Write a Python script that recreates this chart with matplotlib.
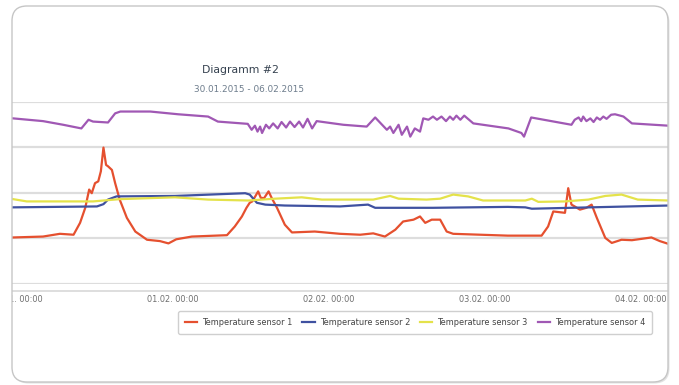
import numpy as np
import pandas as pd
import matplotlib
matplotlib.use("Agg")
import matplotlib.pyplot as plt
import matplotlib.dates as mdates
from matplotlib.patches import FancyBboxPatch, Rectangle
from matplotlib.lines import Line2D

# hours after 31.01.2015 00:00, temperatures in °C
s1_hours = [-0.6, 4.0, 6.6, 8.7, 9.7, 10.5, 11.1, 11.5, 12.0, 12.5, 12.9, 13.3, 13.7, 14.0,
            14.6, 15.1, 15.8, 16.9, 18.2, 20.0, 22.0, 23.3, 24.5, 26.9, 32.3, 33.5, 34.6,
            35.3, 35.8, 36.2, 37.1, 37.5, 38.0, 38.7, 39.2, 40.0, 41.2, 42.3, 45.8, 49.7,
            52.8, 54.8, 56.6, 58.2, 59.4, 61.0, 62.0, 62.8, 63.8, 65.1, 66.1, 67.1, 75.5,
            80.7, 81.7, 82.5, 84.3, 84.8, 85.3, 85.8, 86.6, 87.6, 88.4, 89.2, 90.5, 91.5,
            93.0, 94.6, 97.6, 98.9, 100.2]
s1_temp = [10.2, 10.4, 11.0, 10.8, 13.4, 16.7, 20.7, 19.9, 22.1, 22.5, 24.7, 29.9, 26.1, 25.8,
           25.0, 22.1, 18.5, 14.5, 11.5, 9.7, 9.4, 8.9, 9.8, 10.4, 10.7, 12.6, 14.8,
           16.7, 17.8, 18.1, 20.3, 18.9, 18.8, 20.3, 18.8, 16.7, 13.0, 11.3, 11.5, 11.0,
           10.8, 11.1, 10.4, 11.9, 13.7, 14.1, 14.8, 13.4, 14.1, 14.1, 11.5, 11.0, 10.6,
           10.6, 12.6, 15.9, 15.6, 21.0, 17.4, 17.0, 16.3, 16.7, 17.4, 14.5, 10.1, 9.0,
           9.7, 9.6, 10.2, 9.4, 8.8]

s2_hours = [-0.6, 12.3, 13.3, 14.0, 15.3, 24.3, 35.1, 35.8, 36.9, 38.2, 41.2, 49.7, 54.0,
            55.1, 64.0, 75.5, 78.2, 79.2, 100.2]
s2_temp = [16.8, 17.0, 17.5, 18.5, 19.2, 19.3, 19.9, 19.6, 17.8, 17.4, 17.2, 17.0, 17.4,
           16.7, 16.7, 16.9, 16.8, 16.5, 17.2]

s3_hours = [-0.6, 1.5, 11.7, 15.8, 24.3, 29.4, 35.6, 39.7, 43.8, 46.9, 54.8, 57.4, 58.7,
            63.0, 65.1, 67.1, 69.4, 71.7, 78.2, 79.2, 80.2, 84.3, 87.9, 90.5, 93.0, 95.5,
            100.2]
s3_temp = [18.6, 18.1, 18.1, 18.6, 19.0, 18.5, 18.3, 18.7, 19.0, 18.5, 18.5, 19.3, 18.7,
           18.5, 18.7, 19.6, 19.2, 18.3, 18.3, 18.7, 18.0, 18.1, 18.5, 19.3, 19.6, 18.5,
           18.3]

s4_hours = [-0.6, 4.0, 7.1, 9.9, 11.0, 11.7, 14.0, 15.1, 15.9, 20.5, 24.8, 29.4, 30.9, 35.5,
            36.1, 36.6, 37.0, 37.4, 37.7, 38.3, 38.8, 39.4, 40.1, 40.7, 41.4, 42.0, 42.7,
            43.4, 44.0, 44.7, 45.4, 46.1, 50.2, 53.8, 55.1, 56.9, 57.4, 57.9, 58.7, 59.2,
            60.0, 60.5, 61.2, 62.0, 62.5, 63.3, 64.0, 64.6, 65.3, 66.0, 66.6, 67.1, 67.6,
            68.2, 68.8, 70.2, 75.6, 77.6, 78.0, 79.1, 85.3, 85.8, 86.4, 86.8, 87.1, 87.6,
            88.2, 88.7, 89.2, 89.7, 90.2, 90.7, 91.4, 92.0, 92.8, 93.3, 94.6, 100.2]
s4_temp = [36.3, 35.7, 34.9, 34.1, 36.0, 35.6, 35.4, 37.4, 37.8, 37.8, 37.2, 36.7, 35.6, 35.1,
           33.8, 34.7, 33.4, 34.5, 33.1, 34.9, 34.1, 35.2, 34.1, 35.5, 34.3, 35.6, 34.4,
           35.6, 34.3, 36.2, 34.1, 35.7, 34.9, 34.5, 36.5, 33.8, 34.5, 33.1, 34.9, 32.7,
           34.5, 32.3, 34.1, 33.4, 36.3, 36.0, 36.7, 36.0, 36.7, 35.7, 36.7, 36.0, 36.9,
           36.0, 36.9, 35.2, 34.1, 33.1, 32.3, 36.5, 34.9, 36.0, 36.5, 35.7, 36.7, 35.7,
           36.3, 35.5, 36.5, 36.0, 36.7, 36.2, 37.1, 37.2, 36.9, 36.7, 35.2, 34.7]

series_names = ["Temperature sensor 1", "Temperature sensor 2",
                "Temperature sensor 3", "Temperature sensor 4"]
series_colors = ["#e5502f", "#3f51a0", "#e4e24a", "#a058b4"]

title = "Diagramm #2"
subtitle = "30.01.2015 - 06.02.2015"
start = pd.Timestamp("2015-01-31 00:00")


def to_time(hours):
    return start + pd.to_timedelta(np.array(hours), unit="h")


W, H = 679, 385
fig = plt.figure(figsize=(W / 100, H / 100), dpi=100)

# card with soft shadow
shadow = FancyBboxPatch((0.135, 0.015), 6.56, 3.76, boxstyle="round,pad=0,rounding_size=0.15",
                        transform=fig.dpi_scale_trans, facecolor="#d0d0d0", edgecolor="none",
                        alpha=0.6, zorder=-3)
card = FancyBboxPatch((0.12, 0.03), 6.56, 3.76, boxstyle="round,pad=0,rounding_size=0.15",
                      transform=fig.dpi_scale_trans, facecolor="white", edgecolor="none", zorder=-2)
fig.add_artist(shadow)
fig.add_artist(card)

ax = fig.add_axes([12 / W, (H - 284) / H, 656 / W, (284 - 101.5) / H])
ax.set_facecolor("none")

data = [(s1_hours, s1_temp), (s2_hours, s2_temp), (s3_hours, s3_temp), (s4_hours, s4_temp)]
for (hrs, temp), name, col in zip(data, series_names, series_colors):
    ax.plot(to_time(hrs), temp, color=col, lw=1.6, label=name)

ax.set_xlim(start + pd.Timedelta(hours=-0.77), start + pd.Timedelta(hours=100.15))
ax.set_ylim(0, 40)
ax.set_yticks([0, 10, 20, 30, 40])
ax.grid(axis="y", color="#dddddd", lw=1.6)
ax.grid(axis="x", visible=False)
for sp in ax.spines.values():
    sp.set_visible(False)
ax.xaxis.set_major_locator(mdates.DayLocator())
ax.xaxis.set_major_formatter(mdates.DateFormatter("%d.%m. %H:%M"))
ax.tick_params(axis="x", length=0, pad=8, labelsize=5.9, labelcolor="#6e6e6e")
ax.tick_params(axis="y", length=0, labelleft=False)

# x axis line below the plot area
fig.add_artist(Line2D([12 / W, 668 / W], [(H - 291) / H] * 2, color="#d8d8d8", lw=1.2))

fig.text(240 / W, (H - 70) / H, title, ha="center", va="center", fontsize=7.8,
         color="#35414f")
fig.text(249 / W, (H - 89) / H, subtitle, ha="center", va="center", fontsize=6.4,
         color="#6d7c8c")

leg = ax.legend(loc="center", bbox_to_anchor=(415 / W, (H - 322.5) / H),
                bbox_transform=fig.transFigure, ncol=4, fontsize=5.95, frameon=True,
                handlelength=1.5, handletextpad=0.6, columnspacing=1.2,
                borderpad=0.8, fancybox=True)
leg.get_frame().set_edgecolor("#c4c4c4")
leg.get_frame().set_linewidth(1.0)
for t in leg.get_texts():
    t.set_color("#444444")

# cover spillover left of the card, then the card border on top
fig.add_artist(Rectangle((0, 0), 12 / W, 1, transform=fig.transFigure, facecolor="white",
                         edgecolor="none", zorder=5))
border = FancyBboxPatch((0.12, 0.03), 6.56, 3.76, boxstyle="round,pad=0,rounding_size=0.15",
                        transform=fig.dpi_scale_trans, facecolor="none", edgecolor="#c6c6c6",
                        lw=1.0, zorder=6)
fig.add_artist(border)

fig.savefig("out.png", dpi=100, facecolor="white")
